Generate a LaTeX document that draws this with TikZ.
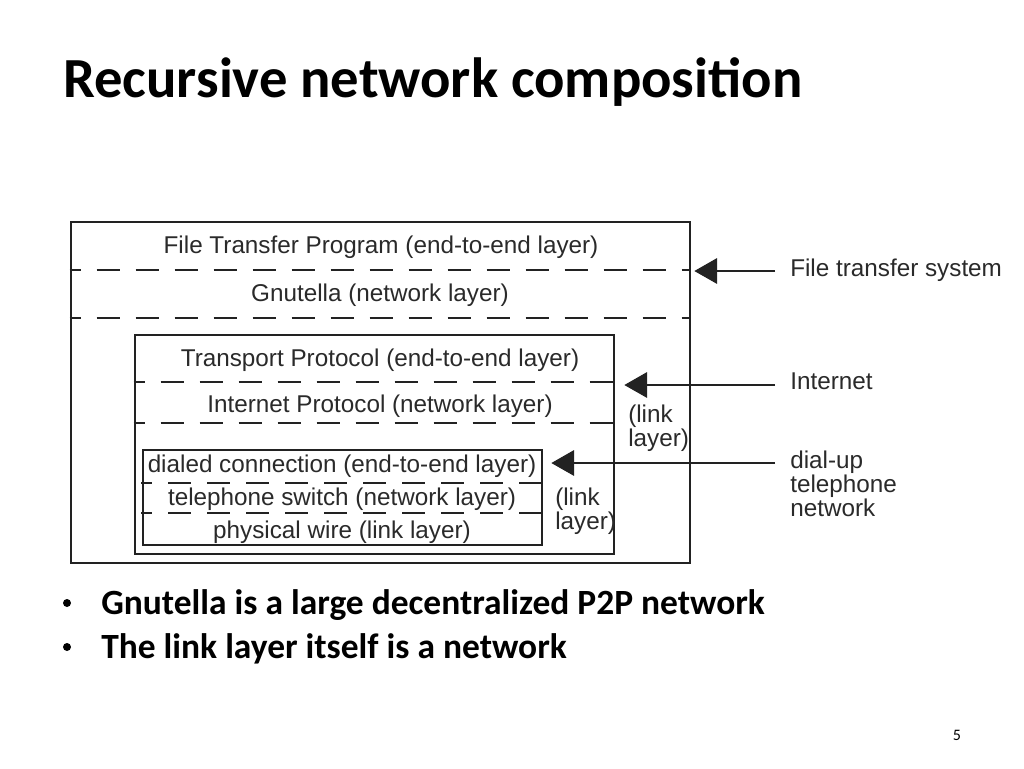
\documentclass[tikz,border=0pt]{standalone}
\usepackage{fontspec}
\setmainfont{Liberation Sans}
\newfontfamily\slidefont{Carlito}
\usetikzlibrary{arrows.meta,fit}

\definecolor{ink}{HTML}{222222}
\definecolor{txt}{HTML}{2A2A2A}

\tikzset{
  box/.style={draw=ink, line width=2pt, inner sep=0pt},
  sep/.style={draw=ink, line width=1.9pt, dash pattern=on 17.25pt off 12pt, dash phase=9pt},
  layer/.style={anchor=base, inner sep=0pt, text=txt, font=\fontsize{18.2}{14.25}\selectfont},
  side/.style={anchor=north west, inner sep=0pt, text=txt, align=left, font=\fontsize{18.2}{14.25}\selectfont},
  arr/.style={draw=ink, line width=1.5pt, -{Triangle[length=17pt,width=19pt]}},
  bullet/.style={anchor=base west, inner sep=0pt, font=\slidefont\bfseries\fontsize{26.6}{32}\selectfont},
}

\begin{document}
\begin{tikzpicture}[x=0.75pt,y=-0.75pt]
\fill[white] (0,0) rectangle (1024,768);
\useasboundingbox (0,0) rectangle (1024,768);

% Title
\node[anchor=base west, inner sep=0pt, font=\slidefont\bfseries\fontsize{42.5}{50}\selectfont] (title) at (63,97) {Recursive network composition};

% Nested boxes
\node[box, fit={(71,222) (690,563)}] (outer) {};
\node[box, fit={(135,335) (614,554)}] (mid) {};
\node[box, fit={(143,450) (542,545)}] (inner) {};

% Layer separators
\foreach \y in {270,318}
  \draw[sep] (outer.west |- 0,\y) -- (outer.east |- 0,\y);
\foreach \y in {382,423}
  \draw[sep] (mid.west |- 0,\y) -- (mid.east |- 0,\y);
\foreach \y in {483,513}
  \draw[sep] (141,\y) -- (545,\y);

% Layer names
\node[layer] (ftp) at (381,253) {File Transfer Program (end-to-end layer)};
\node[layer] (gnu) at (380,301) {Gnutella (network layer)};
\node[layer] (tp) at (380,366) {Transport Protocol (end-to-end layer)};
\node[layer] (ip) at (380,412) {Internet Protocol (network layer)};
\node[layer] (dc) at (342,472) {dialed connection (end-to-end layer)};
\node[layer] (ts) at (342,505) {telephone switch (network layer)};
\node[layer] (pw) at (342,538) {physical wire (link layer)};
\node[side] (link1) at (628,405) {(link\\layer)};
\node[side] (link2) at (555,488) {(link\\layer)};

% Systems on the right
\node[side] (fts) at (790,259) {File transfer system};
\node[side] (inet) at (790,373) {Internet};
\node[side] (dial) at (790,451) {dial-up\\telephone\\network};
\coordinate (fts-in) at (775,271);
\coordinate (inet-in) at (775,385);
\coordinate (dial-in) at (775,463);
\draw[arr, shorten >=2.25pt] (fts-in) -- (fts-in -| outer.east);
\draw[arr, shorten >=6.75pt] (inet-in) -- (inet-in -| mid.east);
\draw[arr, shorten >=6pt] (dial-in) -- (dial-in -| inner.east);

% Bullets
\foreach \t/\yb [count=\i] in {Gnutella is a large decentralized P2P network/614,The link layer itself is a network/658}{
  \fill (67,\yb-11) circle (3pt);
  \node[bullet] (pt\i) at (101,\yb) {\t};
}

% Slide number
\node[anchor=base, inner sep=0pt, font=\slidefont\fontsize{12}{14}\selectfont] (page) at (957,740) {5};
\end{tikzpicture}
\end{document}
